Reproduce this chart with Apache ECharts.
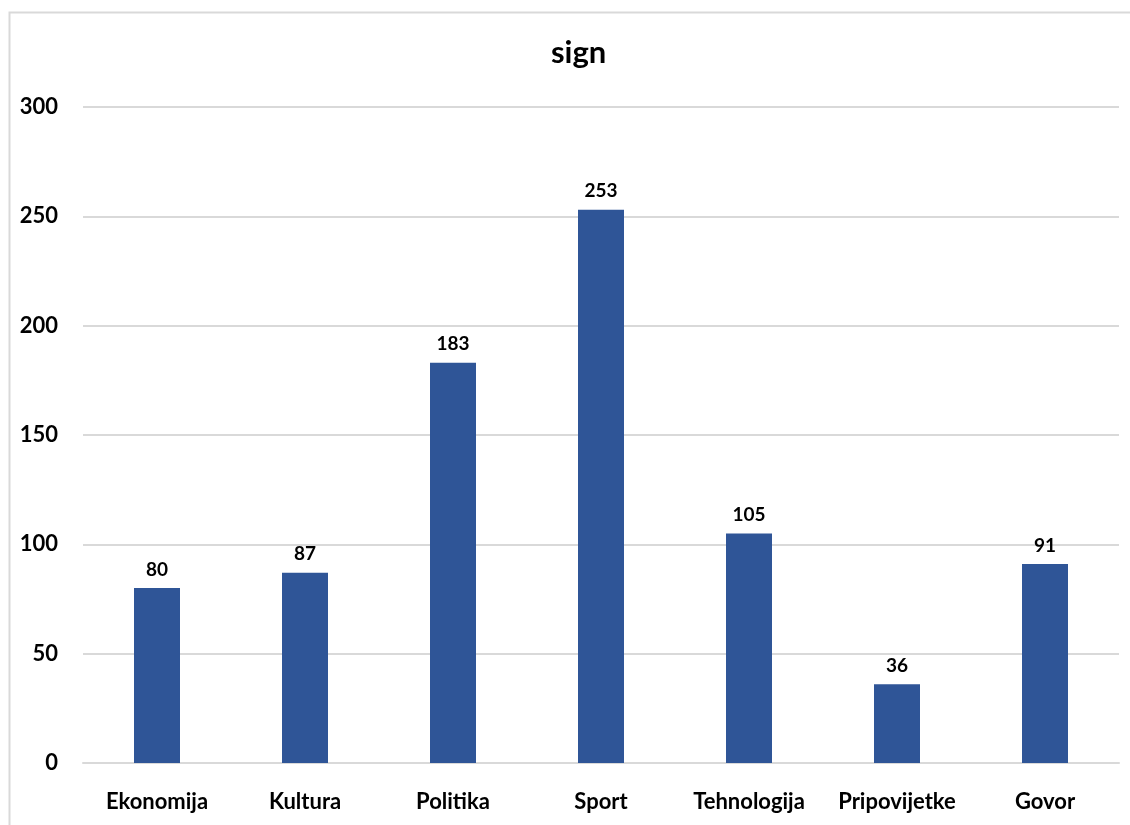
<!DOCTYPE html>
<html><head><meta charset="utf-8">
<script src="https://cdn.jsdelivr.net/npm/echarts@6/dist/echarts.min.js"></script>
<style>html,body{margin:0;padding:0;background:#fff}#c{width:1130px;height:825px}</style>
</head><body><div id="c"></div>
<script>
const categories = ["Ekonomija","Kultura","Politika","Sport","Tehnologija","Pripovijetke","Govor"];
const values = [80, 87, 183, 253, 105, 36, 91];
const yTicks = [0, 50, 100, 150, 200, 250, 300];
const titleText = "sign";

const FONT = "Lato, 'Open Sans', sans-serif";
const chart = echarts.init(document.getElementById('c'), null, {renderer: 'canvas'});
chart.setOption({
  animation: false,
  backgroundColor: '#fff',
  graphic: [{
    type: 'rect', shape: {x: 9.5, y: 12.5, width: 1200, height: 900},
    style: {fill: 'none', stroke: '#d9d9d9', lineWidth: 2}, silent: true
  }],
  title: {
    text: titleText, left: 546, top: 32,
    textStyle: {fontFamily: FONT, fontWeight: 'bold', fontSize: 31, color: '#000'}
  },
  grid: {left: 83, right: 11, top: 107, bottom: 62, containLabel: false},
  xAxis: {
    type: 'category', data: categories,
    axisLine: {show: true, lineStyle: {color: '#d9d9d9', width: 2}},
    axisTick: {show: false},
    axisLabel: {interval: 0, hideOverlap: false, fontFamily: FONT, fontWeight: 'bold', fontSize: 22, color: '#000', margin: 28}
  },
  yAxis: {
    type: 'value', min: yTicks[0], max: yTicks[yTicks.length-1], interval: 50,
    axisLine: {show: false}, axisTick: {show: false},
    splitLine: {lineStyle: {color: '#d9d9d9', width: 2}},
    axisLabel: {fontFamily: FONT, fontWeight: 'bold', fontSize: 22, color: '#000', margin: 25}
  },
  series: [{
    type: 'bar', data: values, barWidth: 46,
    itemStyle: {color: '#2F5597'},
    label: {show: true, position: 'top', distance: 9, fontFamily: FONT, fontWeight: 'bold', fontSize: 19, color: '#000'}
  }]
});
</script></body></html>
